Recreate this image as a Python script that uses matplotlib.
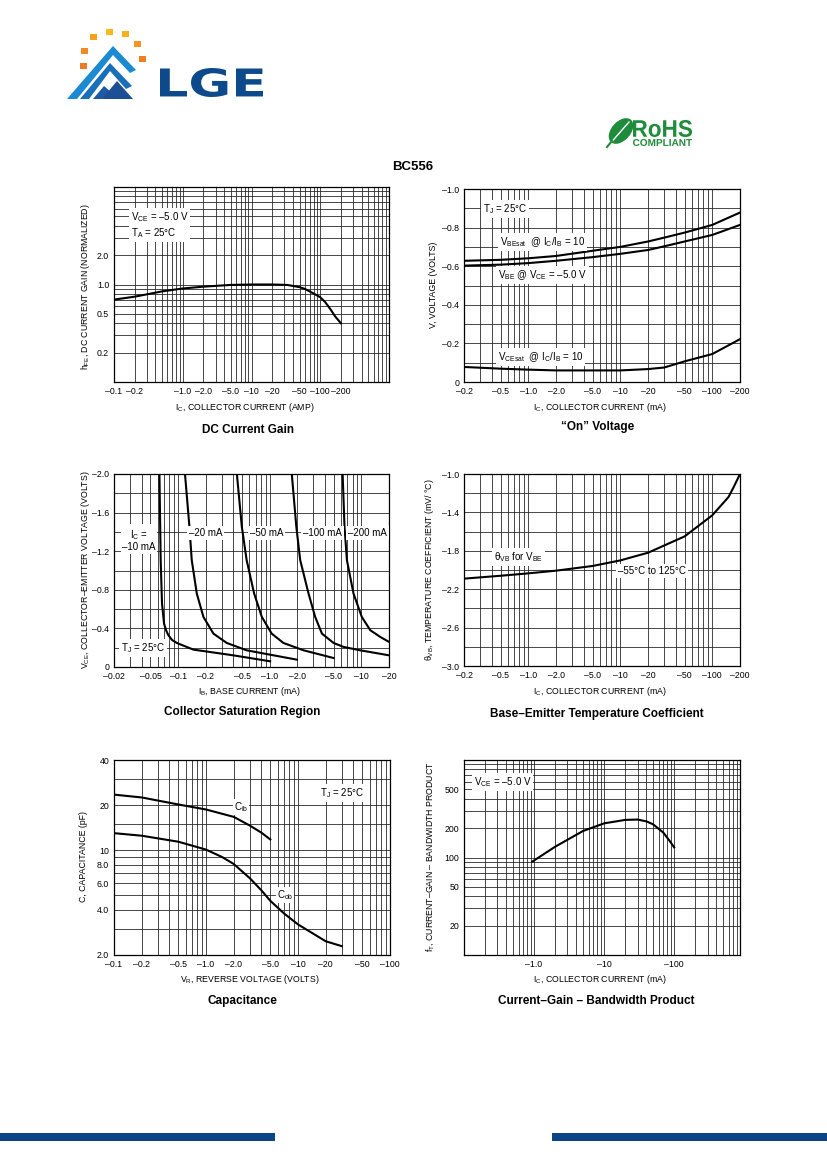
import numpy as np
import matplotlib
matplotlib.use('Agg')
import matplotlib.pyplot as plt
from matplotlib.ticker import LogLocator, MultipleLocator, NullFormatter
from matplotlib.patches import Polygon, Rectangle, Ellipse, PathPatch
from matplotlib.textpath import TextPath
from matplotlib.font_manager import FontProperties
import matplotlib.transforms as mtransforms

plt.rcParams['font.family'] = ['Liberation Sans', 'DejaVu Sans']
plt.rcParams['mathtext.fontset'] = 'custom'
plt.rcParams['mathtext.rm'] = 'Liberation Sans'
plt.rcParams['mathtext.it'] = 'Liberation Sans'
plt.rcParams['mathtext.default'] = 'regular'

# ---- data ----
# DC current gain (normalized) vs collector current
ic_gain = [0.1, 0.2, 0.5, 1.0, 2.0, 5.0, 10, 20, 33, 50, 60, 70, 85, 100, 118, 140, 165, 200]
hfe_norm = [0.70, 0.75, 0.85, 0.91, 0.95, 0.99, 1.0, 1.0, 0.99, 0.94, 0.90, 0.85, 0.79, 0.74, 0.66, 0.56, 0.47, 0.40]

# "On" voltage
ic_on = [0.2, 0.5, 1.0, 2.0, 5.0, 10, 20, 30, 50, 100, 200]
vbe_sat = [-0.628, -0.633, -0.641, -0.653, -0.680, -0.700, -0.728, -0.748, -0.774, -0.814, -0.878]
vbe_on = [-0.603, -0.608, -0.616, -0.628, -0.647, -0.664, -0.684, -0.703, -0.728, -0.762, -0.814]
vce_sat = [-0.078, -0.069, -0.064, -0.060, -0.060, -0.060, -0.067, -0.075, -0.107, -0.145, -0.222]

# collector saturation region (IB in mA, VCE in V) for each IC
ib_10 = [0.0626, 0.0646, 0.0668, 0.0703, 0.074, 0.0784, 0.086, 0.097, 0.147, 0.40, 1.01]
vce_10 = [-2.0, -1.107, -0.657, -0.45, -0.38, -0.329, -0.28, -0.249, -0.18, -0.121, -0.059]
ib_20 = [0.119, 0.133, 0.141, 0.160, 0.189, 0.243, 0.34, 0.56, 1.10, 1.98]
vce_20 = [-2.0, -1.453, -1.107, -0.761, -0.519, -0.346, -0.249, -0.173, -0.121, -0.076]
ib_50 = [0.438, 0.496, 0.56, 0.676, 0.82, 1.05, 1.41, 2.34, 4.97]
vce_50 = [-2.0, -1.453, -1.107, -0.761, -0.519, -0.346, -0.249, -0.173, -0.093]
ib_100 = [1.74, 1.95, 2.15, 2.65, 3.13, 3.71, 4.97, 6.4, 9.7, 20]
vce_100 = [-2.0, -1.453, -1.107, -0.761, -0.519, -0.346, -0.249, -0.208, -0.173, -0.121]
ib_200 = [6.24, 6.54, 6.95, 8.2, 10.1, 12.5, 16.1, 20]
vce_200 = [-2.0, -1.453, -1.107, -0.761, -0.519, -0.381, -0.311, -0.260]

# base-emitter temperature coefficient
ic_tc = [0.2, 0.5, 1.0, 2.0, 5.0, 10, 20, 50, 100, 150, 170, 200]
theta_vb = [-2.09, -2.06, -2.035, -2.007, -1.958, -1.90, -1.82, -1.65, -1.43, -1.24, -1.14, -1.0]

# capacitance
vr_cib = [0.1, 0.2, 0.5, 1.0, 2.0, 3.0, 4.0, 5.0]
c_ib = [23.5, 22.5, 20.2, 18.7, 16.7, 14.6, 13.1, 11.8]
vr_cob = [0.1, 0.2, 0.5, 1.0, 1.5, 2.0, 3.0, 4.0, 5.0, 7.0, 10, 15, 20, 30]
c_ob = [13.0, 12.5, 11.4, 10.1, 9.0, 8.1, 6.5, 5.4, 4.6, 3.8, 3.2, 2.75, 2.47, 2.29]

# current-gain bandwidth product
ic_ft = [0.95, 2.0, 5.0, 10, 20, 30, 40, 50, 70, 85, 100]
f_t = [91, 129, 187, 224, 243, 245, 235, 219, 180, 150, 127]

# tick labels
ic_amp_ticks = [0.1, 0.2, 1, 2, 5, 10, 20, 50, 100, 200]
ic_amp_labels = ['–0.1', '–0.2', '–1.0', '–2.0', '–5.0', '–10', '–20', '–50', '–100', '–200']
ic_ma_ticks = [0.2, 0.5, 1, 2, 5, 10, 20, 50, 100, 200]
ic_ma_labels = ['–0.2', '–0.5', '–1.0', '–2.0', '–5.0', '–10', '–20', '–50', '–100', '–200']
ib_ticks = [0.02, 0.05, 0.1, 0.2, 0.5, 1, 2, 5, 10, 20]
ib_labels = ['–0.02', '–0.05', '–0.1', '–0.2', '–0.5', '–1.0', '–2.0', '–5.0', '–10', '–20']
vr_ticks = [0.1, 0.2, 0.5, 1, 2, 5, 10, 20, 50, 100]
vr_labels = ['–0.1', '–0.2', '–0.5', '–1.0', '–2.0', '–5.0', '–10', '–20', '–50', '–100']

W, H = 827, 1169
fig = plt.figure(figsize=(W / 100, H / 100), dpi=100)
ov = fig.add_axes([0, 0, 1, 1])
ov.set_xlim(0, W)
ov.set_ylim(H, 0)
ov.axis('off')
PX = ov.transData

FS = 6.3
NFS = 7.0
TFS = 8.5


def panel(l, t, r, b):
    ax = fig.add_axes([l / W, 1 - b / H, (r - l) / W, (b - t) / H])
    ax.tick_params(which='both', length=0, labelsize=FS, pad=3.5)
    for s in ax.spines.values():
        s.set_linewidth(0.9)
    ax.set_axisbelow(True)
    return ax


def logx(ax, lo, hi, ticks, labels):
    ax.set_xscale('log')
    ax.set_xlim(lo, hi)
    ax.set_xticks(ticks, labels)
    ax.xaxis.set_minor_locator(LogLocator(base=10, subs=np.arange(1, 10), numticks=100))
    ax.xaxis.set_minor_formatter(NullFormatter())


def grid(ax):
    ax.grid(which='both', color='#2a2a2a', lw=0.6)


def note(ax, x, y, s, ha='left', pad=1.2, **kw):
    ax.text(x, y, s, transform=PX, ha=ha, va='center', fontsize=NFS,
            bbox=dict(fc='white', ec='none', pad=pad), **kw)


def fit_text(s, x0, y0, x1, y1, color, family='Liberation Sans'):
    tp = TextPath((0, 0), s, size=1, prop=FontProperties(family=family, weight='bold'))
    bb = tp.get_extents()
    tr = mtransforms.Affine2D().translate(-bb.x0, -bb.y0).scale((x1 - x0) / bb.width, -(y1 - y0) / bb.height).translate(x0, y1)
    ov.add_patch(PathPatch(tr.transform_path(tp), fc=color, ec='none'))


# ---- 1: DC current gain ----
ax1 = panel(114, 187, 389, 382)
logx(ax1, 0.1, 1000, ic_amp_ticks, ic_amp_labels)
ax1.set_yscale('log')
ax1.set_ylim(0.1, 10)
ax1.set_yticks([0.2, 0.5, 1.0, 2.0], ['0.2', '0.5', '1.0', '2.0'])
ax1.yaxis.set_minor_locator(LogLocator(base=10, subs=np.arange(1, 10), numticks=100))
ax1.yaxis.set_minor_formatter(NullFormatter())
grid(ax1)
ax1.plot(ic_gain, hfe_norm, color='black', lw=1.5)
note(ax1, 131, 225, 'V$_{CE}$ = –5.0 V\nT$_A$ = 25°C', linespacing=1.25)

# ---- 2: "On" voltage ----
ax2 = panel(464, 189, 740, 382)
logx(ax2, 0.2, 200, ic_ma_ticks, ic_ma_labels)
ax2.set_ylim(0, -1.0)
ax2.set_yticks([0, -0.2, -0.4, -0.6, -0.8, -1.0], ['0', '–0.2', '–0.4', '–0.6', '–0.8', '–1.0'])
ax2.yaxis.set_minor_locator(MultipleLocator(0.1))
grid(ax2)
for v in (vbe_sat, vbe_on, vce_sat):
    ax2.plot(ic_on, v, color='black', lw=1.5)
note(ax2, 483, 209, 'T$_J$ = 25°C')
note(ax2, 500, 242, 'V$_{BEsat}$  @ I$_C$/I$_B$ = 10')
note(ax2, 498, 275, 'V$_{BE}$ @ V$_{CE}$ = –5.0 V')
note(ax2, 498, 357, 'V$_{CEsat}$  @ I$_C$/I$_B$ = 10')

# ---- 3: collector saturation region ----
ax3 = panel(114, 474, 389, 667)
logx(ax3, 0.02, 20, ib_ticks, ib_labels)
ax3.set_ylim(0, -2.0)
ax3.set_yticks([0, -0.4, -0.8, -1.2, -1.6, -2.0], ['0', '–0.4', '–0.8', '–1.2', '–1.6', '–2.0'])
ax3.yaxis.set_minor_locator(MultipleLocator(0.2))
grid(ax3)
for xs, ys in ((ib_10, vce_10), (ib_20, vce_20), (ib_50, vce_50), (ib_100, vce_100), (ib_200, vce_200)):
    ax3.plot(xs, ys, color='black', lw=1.5)
note(ax3, 139, 540, 'I$_C$ =\n–10 mA', ha='center', multialignment='center', linespacing=1.1)
note(ax3, 189, 533, '–20 mA')
note(ax3, 250, 533, '–50 mA')
note(ax3, 303, 533, '–100 mA')
note(ax3, 348, 533, '–200 mA')
note(ax3, 121, 648, 'T$_J$ = 25°C')

# ---- 4: base-emitter temperature coefficient ----
ax4 = panel(464, 474, 740, 666)
logx(ax4, 0.2, 200, ic_ma_ticks, ic_ma_labels)
ax4.set_ylim(-3.0, -1.0)
ax4.set_yticks([-1.0, -1.4, -1.8, -2.2, -2.6, -3.0], ['–1.0', '–1.4', '–1.8', '–2.2', '–2.6', '–3.0'])
ax4.yaxis.set_minor_locator(MultipleLocator(0.2))
grid(ax4)
ax4.plot(ic_tc, theta_vb, color='black', lw=1.5)
note(ax4, 494, 557, 'θ$_{VB}$ for V$_{BE}$')
note(ax4, 618, 571, '–55°C to 125°C')

# ---- 5: capacitance ----
ax5 = panel(114, 760, 390, 955)
logx(ax5, 0.1, 100, vr_ticks, vr_labels)
ax5.set_yscale('log')
ax5.set_ylim(2.0, 40)
ax5.set_yticks([2, 4, 6, 8, 10, 20, 40], ['2.0', '4.0', '6.0', '8.0', '10', '20', '40'])
ax5.set_yticks([3, 5, 7, 9, 15, 30], minor=True)
ax5.yaxis.set_minor_formatter(NullFormatter())
grid(ax5)
ax5.plot(vr_cib, c_ib, color='black', lw=1.5)
ax5.plot(vr_cob, c_ob, color='black', lw=1.5)
note(ax5, 234, 807, 'C$_{ib}$', pad=0.6)
note(ax5, 277, 895, 'C$_{ob}$', pad=0.6)
note(ax5, 320, 793, 'T$_J$ = 25°C')

# ---- 6: current-gain bandwidth product ----
ax6 = panel(464, 760, 740, 955)
logx(ax6, 0.1, 870, [1, 10, 100], ['–1.0', '–10', '–100'])
ax6.set_yscale('log')
ax6.set_ylim(10, 1000)
ax6.set_yticks([20, 50, 100, 200, 500], ['20', '50', '100', '200', '500'])
ax6.yaxis.set_minor_locator(LogLocator(base=10, subs=np.arange(1, 10), numticks=100))
ax6.yaxis.set_minor_formatter(NullFormatter())
grid(ax6)
ax6.plot(ic_ft, f_t, color='black', lw=1.5)
note(ax6, 474, 782, 'V$_{CE}$ = –5.0 V')

# ---- axis labels and titles (pixel positions on page) ----
xlabels = [(245, 407, 'I$_C$, COLLECTOR CURRENT (AMP)'),
           (600, 408, 'I$_C$, COLLECTOR CURRENT (mA)'),
           (250, 692, 'I$_B$, BASE CURRENT (mA)'),
           (600, 692, 'I$_C$, COLLECTOR CURRENT (mA)'),
           (250, 979, 'V$_R$, REVERSE VOLTAGE (VOLTS)'),
           (600, 979, 'I$_C$, COLLECTOR CURRENT (mA)')]
for x, y, s in xlabels:
    ov.text(x, y, s, ha='center', va='center', fontsize=FS)

ylabels = [(85, 287, 'h$_{FE}$, DC CURRENT GAIN (NORMALIZED)'),
           (433, 285, 'V, VOLTAGE (VOLTS)'),
           (85, 570, 'V$_{CE}$, COLLECTOR–EMITTER VOLTAGE (VOLTS)'),
           (430, 570, 'θ$_{VB}$, TEMPERATURE COEFFICIENT (mV/ °C)'),
           (83, 857, 'C, CAPACITANCE (pF)'),
           (430, 857, 'f$_T$, CURRENT–GAIN – BANDWIDTH PRODUCT')]
for x, y, s in ylabels:
    ov.text(x, y, s, ha='center', va='center', rotation=90, fontsize=FS)

titles = [(248, 430, 'DC Current Gain'),
          (598, 427, '“On” Voltage'),
          (242, 712, 'Collector Saturation Region'),
          (597, 714, 'Base–Emitter Temperature Coefficient'),
          (242, 1001, 'Capacitance'),
          (596, 1001, 'Current–Gain – Bandwidth Product')]
for x, y, s in titles:
    ov.text(x, y, s, ha='center', va='center', fontsize=TFS, fontweight='bold')

ov.text(413, 167, 'BC556', ha='center', va='center', fontsize=9.5, fontweight='bold')

# ---- header logo ----
dots = [(83.3, 66, '#ee7b22'), (84.3, 51, '#f08a22'), (93.3, 36.7, '#f4a21d'),
        (109.3, 31.7, '#f7b91b'), (125, 34, '#f6b01c'), (137.7, 44.3, '#f39620'),
        (142.3, 58.7, '#ef7f22')]
for x, y, c in dots:
    ov.add_patch(Rectangle((x - 3.5, y - 3), 7, 6, fc=c, ec='none'))
ov.add_patch(Polygon([(67, 99), (113, 46), (136, 70), (130, 73), (113, 55), (77, 99)], fc='#1b8ad3', ec='none'))
ov.add_patch(Polygon([(80, 99), (110, 63), (132, 86), (126, 89), (110, 71), (89, 99)], fc='#1a6fb9', ec='none'))
ov.add_patch(Polygon([(93, 99), (104, 86), (112, 93), (102, 99)], fc='#1d5aa3', ec='none'))
ov.add_patch(Polygon([(102, 99), (117, 81), (133, 99)], fc='#1d4f96', ec='none'))
fit_text('LGE', 160, 68, 263, 97, '#0d4a8b', family='DejaVu Sans')

# RoHS mark
ov.add_patch(Ellipse((621, 131), 30, 19, angle=-48, fc='#1f8c3b', ec='none'))
ov.plot([608, 629], [146, 122], color='white', lw=1.0)
ov.plot([607, 612], [147, 141], color='#1f8c3b', lw=1.5)
fit_text('RoHS', 633, 120, 692, 137, '#1f8c3b')
fit_text('COMPLIANT', 633, 139, 692, 146, '#1f8c3b')

# footer bars
ov.add_patch(Rectangle((0, 1133), 275, 8, fc='#0c4587', ec='none'))
ov.add_patch(Rectangle((552, 1133), 275, 8, fc='#0c4587', ec='none'))

fig.savefig('out.png', dpi=100)
